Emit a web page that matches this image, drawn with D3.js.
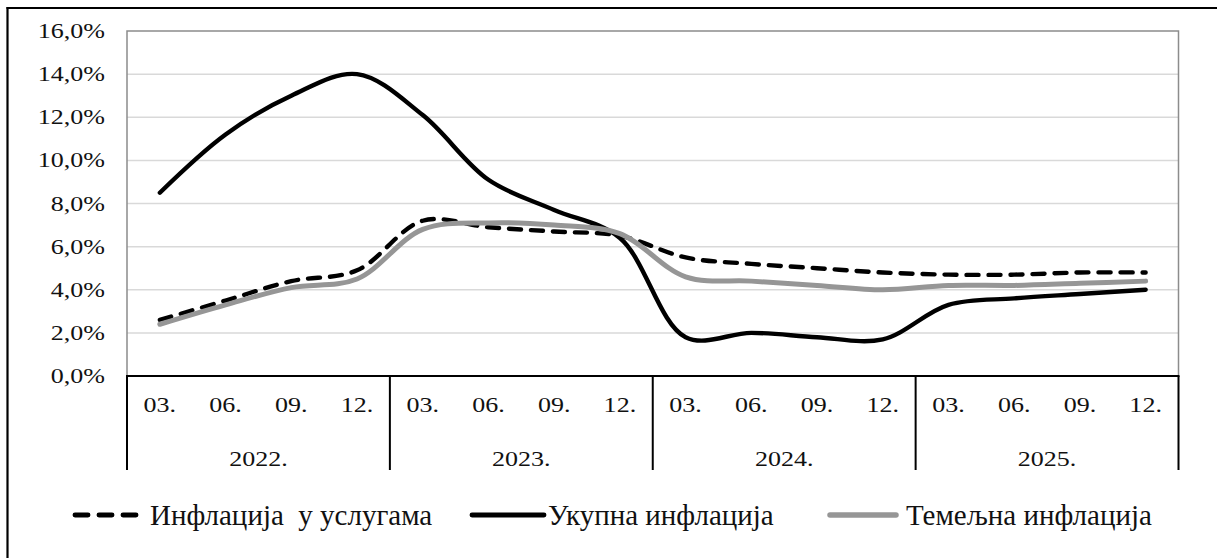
<!DOCTYPE html>
<html>
<head>
<meta charset="utf-8">
<script src="https://cdn.jsdelivr.net/npm/d3@7"></script>
<style>
  html, body { margin: 0; padding: 0; background: #fff; }
  svg { display: block; }
  text { font-family: "Liberation Serif", "Times New Roman", serif; fill: #111; }
</style>
</head>
<body>
<svg id="chart" width="1217" height="558"></svg>
<script>
// ---- data ----
const years = ["2022.", "2023.", "2024.", "2025."];
const months = ["03.", "06.", "09.", "12."];
const categories = years.flatMap(y => months.map(m => y + m));
const services = [2.6, 3.5, 4.4, 4.9, 7.2, 6.9, 6.7, 6.5, 5.5, 5.2, 5.0, 4.8, 4.7, 4.7, 4.8, 4.8];
const total    = [8.5, 11.2, 13.0, 14.0, 12.1, 9.1, 7.7, 6.4, 1.8, 2.0, 1.8, 1.7, 3.3, 3.6, 3.8, 4.0];
const core     = [2.4, 3.3, 4.1, 4.5, 6.8, 7.1, 7.0, 6.6, 4.6, 4.4, 4.2, 4.0, 4.2, 4.2, 4.3, 4.4];
const yTicks = [0, 2, 4, 6, 8, 10, 12, 14, 16];
const seriesNames = ["Инфлација  у услугама", "Укупна инфлација", "Темељна инфлација"];

// ---- layout ----
const svg = d3.select("#chart");
const L = 127, R = 1178.5, T = 31, B = 376;
const SX = 1.24;   // horizontal stretch of axis text seen in the reference
const FS = 21;

const x = d3.scaleBand().domain(categories).range([L, R]).paddingInner(0).paddingOuter(0);
const y = d3.scaleLinear().domain([0, 16]).range([B, T]);
const fmt = v => d3.format(".1f")(v).replace(".", ",") + "%";

function stxt(g, tx, ty, str, anchor, fs, sx) {
  return g.append("text")
    .attr("transform", `translate(${tx},${ty}) scale(${sx || SX},1)`)
    .attr("text-anchor", anchor || "start")
    .attr("font-size", fs || FS)
    .text(str);
}

// outer frame (left & top visible)
svg.append("line").attr("x1", 7.5).attr("x2", 7.5).attr("y1", 7).attr("y2", 558)
  .attr("stroke", "#000").attr("stroke-width", 2.2);
svg.append("line").attr("x1", 6.5).attr("x2", 1217).attr("y1", 8).attr("y2", 8)
  .attr("stroke", "#000").attr("stroke-width", 2.2);

// gridlines
svg.append("g").selectAll("line").data(yTicks.filter(v => v > 0 && v < 16)).join("line")
  .attr("x1", L).attr("x2", R).attr("y1", d => y(d)).attr("y2", d => y(d))
  .attr("stroke", "#d9d9d9").attr("stroke-width", 1.5);

// plot border (grey)
svg.append("path")
  .attr("d", `M${L},${B} V${y(16)} H${R} V${B}`)
  .attr("fill", "none").attr("stroke", "#8c8c8c").attr("stroke-width", 1.5);

// y labels
const yl = svg.append("g");
yTicks.forEach(v => stxt(yl, 105, y(v) + 7, fmt(v), "end"));

// x axis line + year separators
svg.append("line").attr("x1", L - 1).attr("x2", R + 1).attr("y1", B).attr("y2", B)
  .attr("stroke", "#000").attr("stroke-width", 2);
const bounds = years.map(yv => x(yv + months[0])).concat([R]);
svg.append("g").selectAll("line").data(bounds).join("line")
  .attr("x1", d => d).attr("x2", d => d).attr("y1", B).attr("y2", 470)
  .attr("stroke", "#000").attr("stroke-width", 2);

// month & year labels
const xl = svg.append("g");
categories.forEach((c, i) => stxt(xl, x(c) + x.bandwidth() / 2, 412, months[i % 4], "middle"));
years.forEach(yv => {
  const x0 = x(yv + months[0]), x1 = x(yv + months[3]) + x.bandwidth();
  stxt(xl, (x0 + x1) / 2, 466, yv, "middle");
});

// lines
const line = d3.line()
  .x((d, i) => x(categories[i]) + x.bandwidth() / 2)
  .y(d => y(d))
  .curve(d3.curveCatmullRom.alpha(0.5));

const styles = [
  { data: services, color: "#000", width: 4.4, dash: "12,10" },
  { data: total, color: "#000", width: 4.4, dash: null },
  { data: core, color: "#969696", width: 5, dash: null }
];
styles.forEach(s => {
  svg.append("path").datum(s.data).attr("d", line)
    .attr("fill", "none").attr("stroke", s.color).attr("stroke-width", s.width)
    .attr("stroke-linecap", "round").attr("stroke-linejoin", "round")
    .attr("stroke-dasharray", s.dash);
});

// legend
const legPos = [[75, 141, 150], [472, 544, 548], [830, 896, 906]];
const lg = svg.append("g");
styles.forEach((s, i) => {
  const [a, b, t] = legPos[i];
  lg.append("line").attr("x1", a).attr("x2", b).attr("y1", 515).attr("y2", 515)
    .attr("stroke", s.color).attr("stroke-width", s.width + 0.5)
    .attr("stroke-linecap", "round").attr("stroke-dasharray", s.dash ? "13,11" : null);
  stxt(lg, t, 525, seriesNames[i], "start", 29, 1).style("white-space", "pre");
});
</script>
</body>
</html>
